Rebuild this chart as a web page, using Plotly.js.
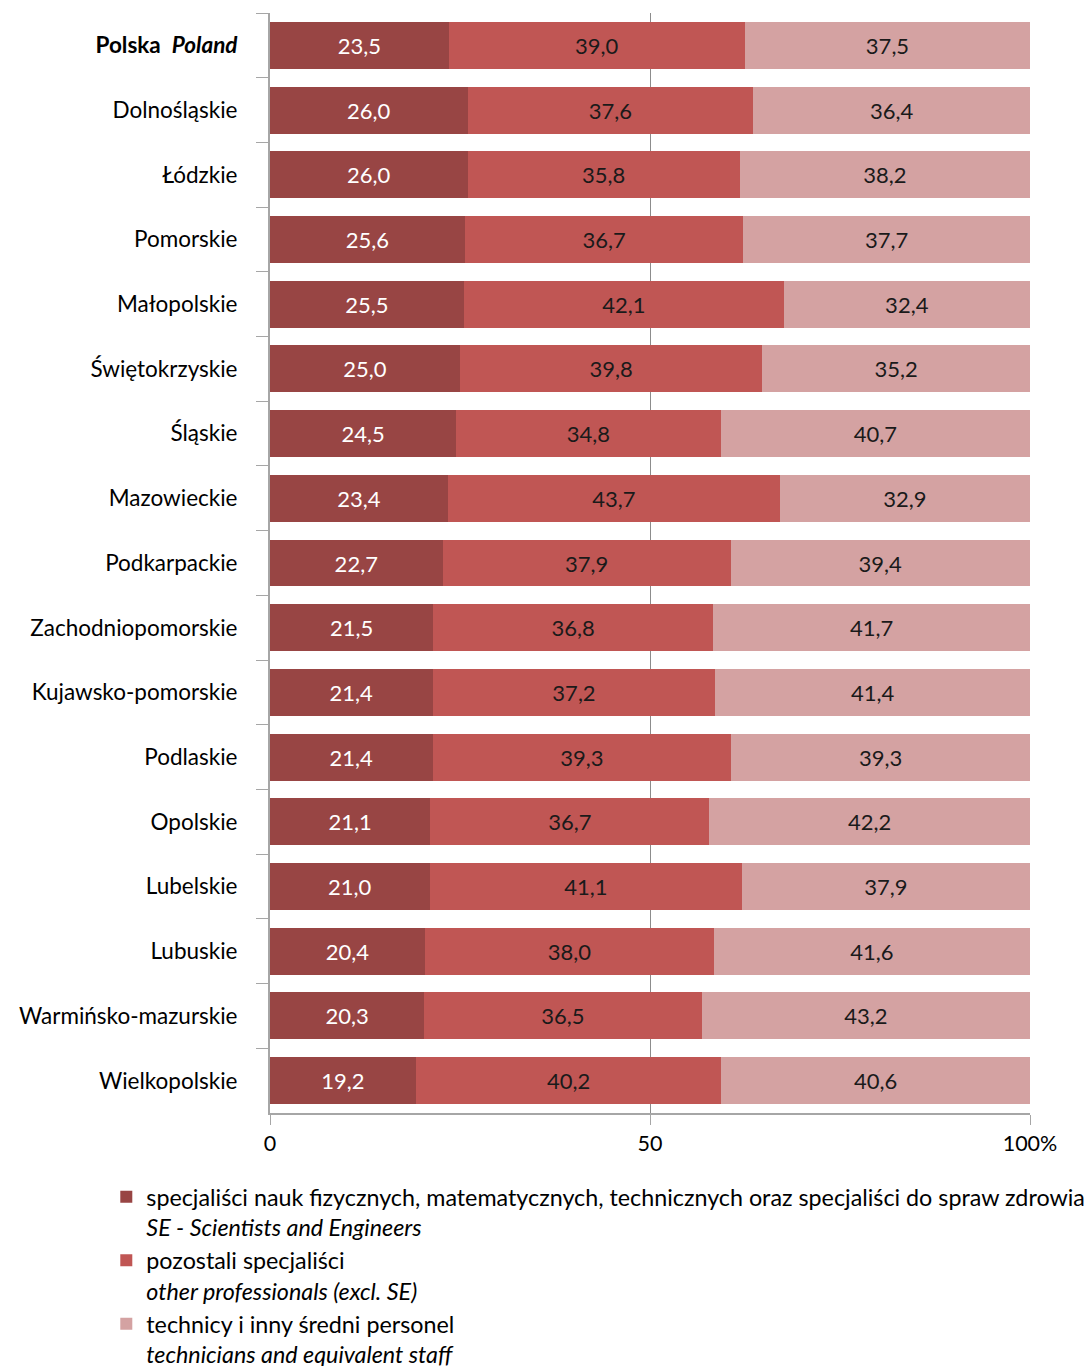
<!DOCTYPE html>
<html>
<head>
<meta charset="utf-8">
<script src="https://cdn.plot.ly/plotly-3.0.1.min.js"></script>
<style>
html,body{margin:0;padding:0;background:#fff;}
#chart{width:1088px;height:1366px;}
</style>
</head>
<body>
<div id="chart"></div>
<script>
var regions = ["<b>Polska  <i>Poland</i></b>","Dolnośląskie","Łódzkie","Pomorskie","Małopolskie","Świętokrzyskie","Śląskie","Mazowieckie","Podkarpackie","Zachodniopomorskie","Kujawsko-pomorskie","Podlaskie","Opolskie","Lubelskie","Lubuskie","Warmińsko-mazurskie","Wielkopolskie"];
var scientists = [23.5,26.0,26.0,25.6,25.5,25.0,24.5,23.4,22.7,21.5,21.4,21.4,21.1,21.0,20.4,20.3,19.2];
var otherProf = [39.0,37.6,35.8,36.7,42.1,39.8,34.8,43.7,37.9,36.8,37.2,39.3,36.7,41.1,38.0,36.5,40.2];
var technicians = [37.5,36.4,38.2,37.7,32.4,35.2,40.7,32.9,39.4,41.7,41.4,39.3,42.2,37.9,41.6,43.2,40.6];
var seriesNames = [
  "specjaliści nauk fizycznych, matematycznych, technicznych oraz specjaliści do spraw zdrowia<br><i>SE - Scientists and Engineers</i>",
  "pozostali specjaliści<br><i>other professionals (excl. SE)</i>",
  "technicy i inny średni personel<br><i>technicians and equivalent staff</i>"
];
var xTickVals = [0,50,100];
var xTickText = ["0","50","100%"];

var colors = ["#984544","#C05654","#D4A2A2"];
var txtColors = ["#ffffff","#1a1a1a","#1a1a1a"];
var data = [scientists, otherProf, technicians].map(function(vals,i){
  return {
    type:"bar", orientation:"h", y:regions, x:vals, name:seriesNames[i],
    marker:{color:colors[i]},
    texttemplate:"%{x:.1f}", textposition:"inside", insidetextanchor:"middle",
    textfont:{family:"Lato, sans-serif", size:22, color:txtColors[i]},
    constraintext:"none", hoverinfo:"skip"
  };
});

var layout = {
  width:1088, height:1366,
  margin:{l:270, r:58, t:13, b:253, autoexpand:false},
  barmode:"stack", bargap:0.274,
  separators:", ",
  font:{family:"Lato, sans-serif", size:22, color:"#000"},
  showlegend:true,
  legend:{x:-0.2154, xanchor:"left", y:-0.0564, yanchor:"top", valign:"top",
    font:{family:"Lato, sans-serif", size:23.3, color:"#000"}, tracegroupgap:6, traceorder:"normal"},
  xaxis:{range:[0,100], tickvals:xTickVals, ticktext:xTickText, showgrid:true,
    gridcolor:"#8c8c8c", gridwidth:1, zeroline:false, showline:true, linecolor:"#a6a6a6", linewidth:2,
    ticks:"outside", ticklen:10, tickcolor:"#a6a6a6", tickfont:{size:21.5}, fixedrange:true, automargin:false},
  yaxis:{autorange:"reversed", type:"category", showline:true, linecolor:"#a6a6a6", linewidth:2,
    ticks:"outside", tickson:"boundaries", ticklen:12, tickcolor:"#a6a6a6", ticklabelstandoff:26,
    tickfont:{size:22.5}, showgrid:false, fixedrange:true, automargin:false},
  paper_bgcolor:"#fff", plot_bgcolor:"#fff"
};
Plotly.newPlot("chart", data, layout, {displayModeBar:false, staticPlot:true});
</script>
</body>
</html>
